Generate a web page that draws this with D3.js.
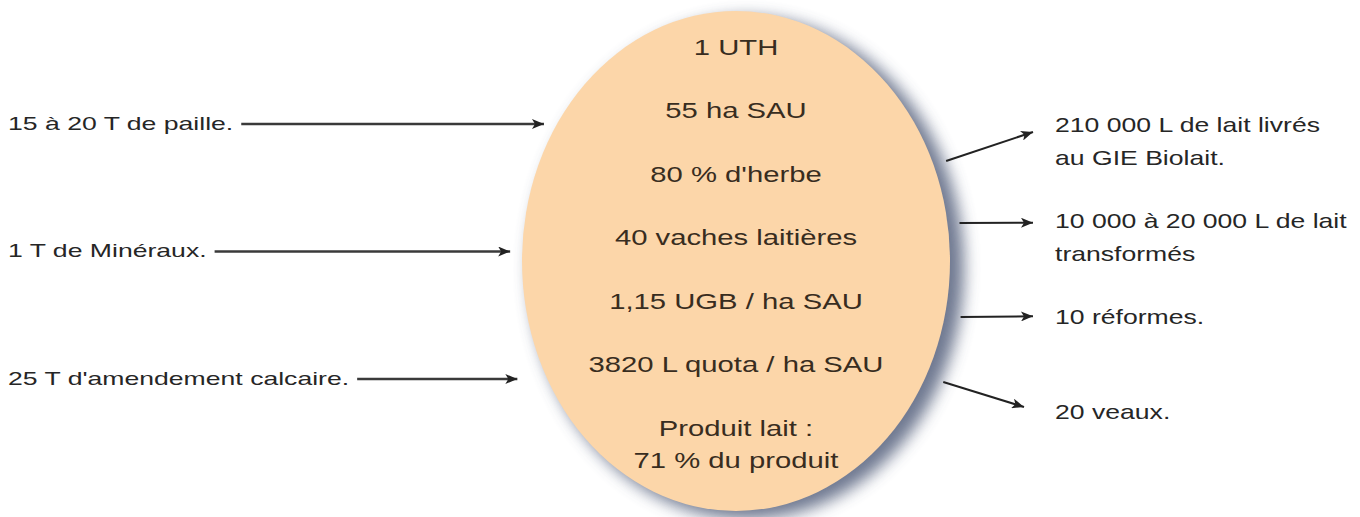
<!DOCTYPE html>
<html>
<head>
<meta charset="utf-8">
<script src="https://cdn.jsdelivr.net/npm/d3@7/dist/d3.min.js"></script>
<style>
  body { margin: 0; background: #fff; }
  svg { display: block; }
</style>
</head>
<body>
<div class="chart"></div>
<script>
// farm summary, inputs on the left, outputs on the right
var farmLines = ["1 UTH", "55 ha SAU", "80 % d'herbe", "40 vaches laitières",
  "1,15 UGB / ha SAU", "3820 L quota / ha SAU", ["Produit lait :", "71 % du produit"]];

var inputs = ["15 à 20 T de paille.", "1 T de Minéraux.", "25 T d'amendement calcaire."];

var outputs = [
  ["210 000 L de lait livrés", "au GIE Biolait."],
  ["10 000 à 20 000 L de lait", "transformés"],
  ["10 réformes."],
  ["20 veaux."]
];

var width = 1360, height = 517;
var cx = 736, cy = 261, rx = 214, ry = 250;
var stretch = 1.33; // text in the picture is drawn wide

var svg = d3.select(".chart").append("svg")
    .attr("width", width)
    .attr("height", height);

var defs = svg.append("defs");
defs.append("filter")
    .attr("id", "blur")
    .attr("x", "-20%").attr("y", "-20%").attr("width", "140%").attr("height", "140%")
  .append("feGaussianBlur")
    .attr("stdDeviation", 8);

defs.append("marker")
    .attr("id", "head")
    .attr("viewBox", "0 0 12 10")
    .attr("refX", 12).attr("refY", 5)
    .attr("markerUnits", "userSpaceOnUse")
    .attr("markerWidth", 13).attr("markerHeight", 10)
    .attr("orient", "auto")
  .append("path")
    .attr("d", "M0,0L12,5L0,10L3,5Z")
    .attr("fill", "#222");

// ellipse + shadow
svg.append("ellipse")
    .attr("cx", cx + 11).attr("cy", cy + 7)
    .attr("rx", rx + 3).attr("ry", ry + 1)
    .attr("fill", "#56627e")
    .attr("opacity", 0.85)
    .attr("filter", "url(#blur)");

svg.append("ellipse")
    .attr("cx", cx).attr("cy", cy)
    .attr("rx", rx).attr("ry", ry)
    .attr("fill", "#fcd6a9");

function edgeX(y, side) {
  var t = (y - cy) / ry;
  return cx + side * rx * Math.sqrt(Math.max(0, 1 - t * t));
}

var yFarm = d3.scalePoint().domain(d3.range(farmLines.length)).range([47, 428]);

var farm = svg.append("g").attr("class", "farm")
    .attr("font-family", "Liberation Sans, Arial, sans-serif")
    .attr("font-size", "22px")
    .attr("fill", "#382d1f");

farm.selectAll("text")
    .data(farmLines)
    .enter()
    .append("text")
    .attr("transform", function(d, i) { return "translate(" + cx + "," + yFarm(i) + ") scale(" + stretch + ",1)"; })
    .attr("text-anchor", "middle")
    .each(function(d) {
      var lines = Array.isArray(d) ? d : [d];
      d3.select(this).selectAll("tspan")
        .data(lines)
        .enter()
        .append("tspan")
        .attr("x", 0)
        .attr("y", function(l, j) { return j * 32; })
        .attr("dy", "0.36em")
        .text(function(l) { return l; });
    });

// inputs
var yIn = d3.scalePoint().domain(inputs).range([123, 378]);
var inGap = [13, 12, 30];
var inStretch = 1.4;

var left = svg.append("g").attr("class", "inputs")
    .attr("font-family", "Liberation Sans, Arial, sans-serif")
    .attr("font-size", "19px")
    .attr("fill", "#262626");

left.selectAll("text")
    .data(inputs)
    .enter()
    .append("text")
    .attr("transform", function(d) { return "translate(8," + yIn(d) + ") scale(" + inStretch + ",1)"; })
    .attr("dy", "0.36em")
    .text(function(d) { return d; })
    .each(function(d, i) {
      var w = this.getComputedTextLength() * inStretch;
      var y = yIn(d) + 1;
      left.append("line")
        .attr("x1", 8 + w + 8)
        .attr("x2", edgeX(y, -1) - inGap[i])
        .attr("y1", y).attr("y2", y)
        .attr("stroke", "#3a3a3a")
        .attr("stroke-width", 2.5)
        .attr("marker-end", "url(#head)");
    });

// outputs
var yOut = d3.scalePoint().domain(d3.range(outputs.length)).range([125, 412]);
var tipShift = [7, 2, 0, -5];
var startY = [161, 223, 317, 382];
var startGap = [14, 12, 16, 20];

var right = svg.append("g").attr("class", "outputs")
    .attr("font-family", "Liberation Sans, Arial, sans-serif")
    .attr("font-size", "20px")
    .attr("fill", "#262626");

right.selectAll("line")
    .data(outputs)
    .enter()
    .append("line")
    .attr("x1", function(d, i) { return edgeX(startY[i], 1) + startGap[i]; })
    .attr("y1", function(d, i) { return startY[i]; })
    .attr("x2", function(d, i) { return i === 3 ? 1024 : 1033; })
    .attr("y2", function(d, i) { return yOut(i) + tipShift[i]; })
    .attr("stroke", "#222")
    .attr("stroke-width", 2)
    .attr("marker-end", "url(#head)");

right.selectAll("text")
    .data(outputs)
    .enter()
    .append("text")
    .attr("transform", function(d, i) { return "translate(1055," + yOut(i) + ") scale(" + stretch + ",1)"; })
    .each(function(d) {
      d3.select(this).selectAll("tspan")
        .data(d)
        .enter()
        .append("tspan")
        .attr("x", 0)
        .attr("y", function(l, j) { return j * 33; })
        .attr("dy", "0.36em")
        .text(function(l) { return l; });
    });
</script>
</body>
</html>
